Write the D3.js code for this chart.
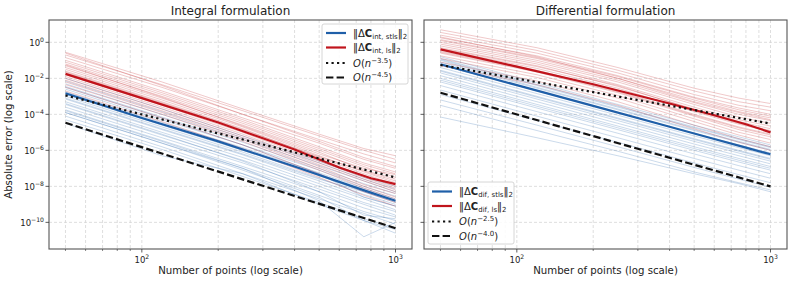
<!DOCTYPE html>
<html lang="en">
<head>
  <meta charset="UTF-8">
  <title>Integral vs differential formulation</title>
  <script src="https://d3js.org/d3.v7.min.js"></script>
  <style>
    body { margin: 0; background: #fff; font-family: "DejaVu Sans", sans-serif; }
    svg text { fill: #222; }
  </style>
</head>
<body>
  <div id="chart"></div>

  <script>
    // ---- data (errors stored as log10 values) ----
    // n values used for the mean curves and for the individual runs
    const meanN = [50, 100, 200, 400, 600, 800, 1000];
    const runN = [50, 120, 250, 500, 750, 1000];

    // Integral formulation
    const intStlsMeanLog = [-2.83, -4.2, -5.5, -6.9, -7.75, -8.35, -8.8];
    const intLsMeanLog   = [-1.75, -3.1, -4.45, -5.95, -6.95, -7.55, -7.88];
    const intStlsRunsLog = [
      [-2.0, -3.7, -5.2, -6.6, -7.5, -8.0],
      [-2.15, -3.85, -5.3, -6.7, -7.6, -8.15],
      [-2.3, -4.0, -5.4, -6.85, -7.7, -8.3],
      [-2.45, -4.15, -5.55, -7.0, -7.85, -8.4],
      [-2.6, -4.3, -5.7, -7.1, -8.0, -8.55],
      [-2.75, -4.45, -5.85, -7.25, -8.1, -8.7],
      [-2.9, -4.6, -6.0, -7.4, -8.3, -8.85],
      [-3.0, -4.7, -6.1, -7.55, -8.45, -9.0],
      [-3.15, -4.85, -6.25, -7.7, -8.6, -9.1],
      [-3.3, -5.0, -6.4, -7.85, -8.7, -9.3],
      [-3.45, -5.15, -6.55, -8.0, -8.9, -9.4],
      [-3.6, -5.3, -6.7, -8.15, -9.0, -9.6],
      [-3.75, -5.45, -6.9, -8.3, -9.2, -9.7],
      [-3.9, -5.6, -7.0, -8.5, -9.4, -9.9],
      [-4.1, -5.8, -7.3, -8.7, -9.5, -10.1],
      [-4.3, -5.95, -7.45, -8.9, -9.8, -10.3],
      [-4.5, -6.3, -7.3, -9.0, -9.9, -10.6],
      [-3.4, -5.1, -6.6, -8.3, -9.6, -9.8],
      [-3.8, -5.5, -7.0, -8.8, -10.8, -10.0],
      [-2.5, -4.2, -5.7, -7.3, -8.6, -9.1],
      [-3.1, -4.8, -6.2, -7.6, -8.3, -8.9],
      [-3.9, -5.6, -7.1, -8.6, -9.9, -10.4]
    ];
    const intLsRunsLog = [
      [-0.55, -2.2, -3.7, -5.1, -5.9, -6.3],
      [-0.7, -2.35, -3.8, -5.2, -6.0, -6.5],
      [-0.85, -2.5, -4.0, -5.4, -6.2, -6.7],
      [-1.0, -2.7, -4.2, -5.6, -6.5, -7.0],
      [-1.1, -2.8, -4.3, -5.8, -6.7, -7.2],
      [-1.2, -2.9, -4.4, -5.9, -6.8, -7.3],
      [-1.3, -3.0, -4.5, -6.0, -6.9, -7.5],
      [-1.4, -3.1, -4.6, -6.1, -7.1, -7.6],
      [-1.5, -3.2, -4.7, -6.3, -7.2, -7.8],
      [-1.6, -3.3, -4.8, -6.4, -7.3, -7.9],
      [-1.7, -3.4, -4.9, -6.5, -7.4, -8.0],
      [-1.8, -3.5, -5.0, -6.6, -7.5, -8.1],
      [-1.9, -3.6, -5.1, -6.7, -7.6, -8.2],
      [-2.0, -3.7, -5.2, -6.8, -7.7, -8.3],
      [-2.1, -3.8, -5.3, -6.9, -7.9, -8.4],
      [-2.2, -3.9, -5.4, -7.0, -8.0, -8.6],
      [-2.35, -4.0, -5.5, -7.1, -8.1, -8.7],
      [-2.5, -4.2, -5.7, -7.3, -8.3, -8.9],
      [-2.7, -4.4, -5.9, -7.5, -8.5, -9.1],
      [-0.6, -2.4, -4.0, -5.5, -6.4, -6.9],
      [-1.25, -3.05, -4.65, -6.2, -7.0, -7.35],
      [-1.65, -3.35, -4.85, -6.35, -7.15, -7.7]
    ];
    // reference slopes: [exponent, log10 value at n=50]
    const intRefDotted = [-3.5, -2.95];
    const intRefDashed = [-4.5, -4.47];

    // Differential formulation
    const difStlsMeanLog = [-1.22, -2.38, -3.53, -4.69, -5.37, -5.85, -6.22];
    const difLsMeanLog   = [-0.39, -1.35, -2.33, -3.4, -4.05, -4.55, -5.0];
    const difStlsRunsLog = [
      [-0.8, -2.25, -3.45, -4.6, -5.25, -5.7],
      [-0.95, -2.4, -3.6, -4.75, -5.4, -5.85],
      [-1.1, -2.55, -3.75, -4.9, -5.55, -6.0],
      [-1.25, -2.7, -3.9, -5.05, -5.7, -6.15],
      [-1.4, -2.85, -4.05, -5.2, -5.85, -6.3],
      [-1.55, -3.0, -4.2, -5.35, -6.0, -6.45],
      [-1.7, -3.15, -4.35, -5.5, -6.15, -6.6],
      [-1.85, -3.3, -4.5, -5.65, -6.3, -6.75],
      [-2.0, -3.45, -4.65, -5.8, -6.45, -6.9],
      [-2.2, -3.65, -4.85, -6.0, -6.65, -7.1],
      [-2.4, -3.85, -5.05, -6.2, -6.85, -7.3],
      [-2.65, -4.1, -5.3, -6.45, -7.1, -7.55],
      [-2.9, -4.35, -5.55, -6.7, -7.35, -7.8],
      [-3.2, -4.6, -5.8, -6.95, -7.6, -8.05],
      [-3.5, -4.9, -6.05, -7.2, -7.8, -8.2],
      [-4.15, -5.3, -6.3, -7.3, -7.85, -8.3],
      [-1.0, -2.5, -3.7, -4.85, -5.5, -5.95],
      [-1.6, -3.05, -4.25, -5.4, -6.05, -6.5],
      [-2.1, -3.55, -4.75, -5.9, -6.55, -7.0],
      [-0.9, -2.35, -3.55, -4.7, -5.35, -5.8]
    ];
    const difLsRunsLog = [
      [0.7, -0.3, -1.4, -2.55, -3.1, -3.4],
      [0.55, -0.45, -1.55, -2.7, -3.3, -3.6],
      [0.4, -0.6, -1.7, -2.9, -3.5, -3.8],
      [0.25, -0.75, -1.85, -3.05, -3.65, -4.0],
      [0.1, -0.9, -2.0, -3.2, -3.85, -4.2],
      [0.0, -1.0, -2.1, -3.35, -4.0, -4.35],
      [-0.1, -1.1, -2.2, -3.45, -4.15, -4.5],
      [-0.2, -1.2, -2.35, -3.6, -4.3, -4.65],
      [-0.3, -1.3, -2.45, -3.7, -4.4, -4.8],
      [-0.4, -1.45, -2.55, -3.85, -4.55, -4.95],
      [-0.5, -1.55, -2.7, -4.0, -4.7, -5.1],
      [-0.6, -1.65, -2.8, -4.1, -4.85, -5.25],
      [-0.75, -1.8, -2.95, -4.25, -5.0, -5.4],
      [-0.9, -1.95, -3.1, -4.4, -5.15, -5.6],
      [-1.1, -2.15, -3.3, -4.6, -5.35, -5.8],
      [-1.3, -2.35, -3.5, -4.8, -5.55, -6.0],
      [0.3, -0.8, -2.0, -3.3, -3.9, -4.3],
      [-0.35, -1.35, -2.4, -3.75, -4.5, -4.9],
      [0.15, -0.85, -1.9, -3.1, -3.75, -4.1],
      [-0.55, -1.6, -2.75, -4.05, -4.75, -5.15]
    ];
    const difRefDotted = [-2.5, -1.26];
    const difRefDashed = [-4.0, -2.8];

    const yTickExps = [0, -2, -4, -6, -8, -10];
    const xTickExps = [2, 3];

    // ---- layout ----
    const W = 793, H = 284;
    const plotTop = 20, plotBottom = 249;
    const blue = "#1f5fa8", red = "#c0141c";

    const svg = d3.select("#chart").append("svg")
      .attr("width", W).attr("height", H);

    const y = d3.scaleLog()
      .domain([Math.pow(10, -11.48), Math.pow(10, 1.24)])
      .range([plotBottom, plotTop]);

    const panels = [
      {
        x0: 49, x1: 412, title: "Integral formulation", sub: "int",
        stlsMean: intStlsMeanLog, lsMean: intLsMeanLog,
        stlsRuns: intStlsRunsLog, lsRuns: intLsRunsLog,
        dotted: intRefDotted, dashed: intRefDashed,
        legend: { x: 322, y: 24, w: 86, h: 60 }
      },
      {
        x0: 424, x1: 787, title: "Differential formulation", sub: "dif",
        stlsMean: difStlsMeanLog, lsMean: difLsMeanLog,
        stlsRuns: difStlsRunsLog, lsRuns: difLsRunsLog,
        dotted: difRefDotted, dashed: difRefDashed,
        legend: { x: 428, y: 182, w: 86, h: 62 }
      }
    ];

    function supText(sel, base, sup, size) {
      sel.append("tspan").text(base);
      sel.append("tspan").attr("font-size", size * 0.72).attr("dy", -size * 0.42).text(sup);
    }

    panels.forEach((p, i) => {
      const x = d3.scaleLog()
        .domain([Math.pow(10, 1.634), Math.pow(10, 3.065)])
        .range([p.x0, p.x1]);
      const g = svg.append("g");

      const clipId = "clip" + i;
      svg.append("clipPath").attr("id", clipId)
        .append("rect").attr("x", p.x0).attr("y", plotTop)
        .attr("width", p.x1 - p.x0).attr("height", plotBottom - plotTop);

      // grid
      const xMinor = [50, 60, 70, 80, 90, 200, 300, 400, 500, 600, 700, 800, 900];
      const xMajor = xTickExps.map(e => Math.pow(10, e));
      g.selectAll(".vgrid").data(xMajor.concat(xMinor)).enter().append("line")
        .attr("x1", d => x(d)).attr("x2", d => x(d))
        .attr("y1", plotTop).attr("y2", plotBottom)
        .attr("stroke", "#d6d6d6").attr("stroke-width", 0.8)
        .attr("stroke-dasharray", "3,2");
      g.selectAll(".hgrid").data(yTickExps).enter().append("line")
        .attr("x1", p.x0).attr("x2", p.x1)
        .attr("y1", d => y(Math.pow(10, d))).attr("y2", d => y(Math.pow(10, d)))
        .attr("stroke", "#d6d6d6").attr("stroke-width", 0.8)
        .attr("stroke-dasharray", "3,2");

      const plot = g.append("g").attr("clip-path", `url(#${clipId})`);
      const line = (ns) => d3.line()
        .x((d, k) => x(ns[k]))
        .y(d => y(Math.pow(10, d)));

      // individual runs
      plot.selectAll(".runB").data(p.stlsRuns).enter().append("path")
        .attr("d", line(runN)).attr("fill", "none")
        .attr("stroke", blue).attr("stroke-opacity", 0.26).attr("stroke-width", 0.9);
      plot.selectAll(".runR").data(p.lsRuns).enter().append("path")
        .attr("d", line(runN)).attr("fill", "none")
        .attr("stroke", red).attr("stroke-opacity", 0.26).attr("stroke-width", 0.9);

      // means
      plot.append("path").datum(p.stlsMean).attr("d", line(meanN))
        .attr("fill", "none").attr("stroke", blue).attr("stroke-width", 2.2);
      plot.append("path").datum(p.lsMean).attr("d", line(meanN))
        .attr("fill", "none").attr("stroke", red).attr("stroke-width", 2.2);

      // reference slopes
      const refEnds = [50, 1000];
      const refLine = r => refEnds.map(n => r[1] + r[0] * (Math.log10(n) - Math.log10(50)));
      plot.append("path").datum(refLine(p.dotted)).attr("d", line(refEnds))
        .attr("fill", "none").attr("stroke", "#111").attr("stroke-width", 2.2)
        .attr("stroke-dasharray", "2.2,3.3");
      plot.append("path").datum(refLine(p.dashed)).attr("d", line(refEnds))
        .attr("fill", "none").attr("stroke", "#111").attr("stroke-width", 2.2)
        .attr("stroke-dasharray", "7.4,3.2");

      // frame
      g.append("rect").attr("x", p.x0).attr("y", plotTop)
        .attr("width", p.x1 - p.x0).attr("height", plotBottom - plotTop)
        .attr("fill", "none").attr("stroke", "#555").attr("stroke-width", 1.1);

      // x ticks
      g.selectAll(".xt").data(xMajor).enter().append("line")
        .attr("x1", d => x(d)).attr("x2", d => x(d))
        .attr("y1", plotBottom).attr("y2", plotBottom + 3.5)
        .attr("stroke", "#333").attr("stroke-width", 0.8);
      g.selectAll(".xtm").data(xMinor).enter().append("line")
        .attr("x1", d => x(d)).attr("x2", d => x(d))
        .attr("y1", plotBottom).attr("y2", plotBottom + 2)
        .attr("stroke", "#333").attr("stroke-width", 0.6);
      xTickExps.forEach(e => {
        const t = g.append("text").attr("x", x(Math.pow(10, e)))
          .attr("y", plotBottom + 14).attr("text-anchor", "middle").attr("font-size", 8.5);
        supText(t, "10", String(e), 8.5);
      });

      // y ticks
      g.selectAll(".yt").data(yTickExps).enter().append("line")
        .attr("x1", p.x0 - 3.5).attr("x2", p.x0)
        .attr("y1", d => y(Math.pow(10, d))).attr("y2", d => y(Math.pow(10, d)))
        .attr("stroke", "#333").attr("stroke-width", 0.8);
      if (i === 0) {
        yTickExps.forEach(e => {
          const t = g.append("text").attr("x", p.x0 - 5)
            .attr("y", y(Math.pow(10, e)) + 3.5).attr("text-anchor", "end").attr("font-size", 8.5);
          supText(t, "10", e === 0 ? "0" : "\u2212" + Math.abs(e), 8.5);
        });
        svg.append("text")
          .attr("transform", `translate(12,${(plotTop + plotBottom) / 2}) rotate(-90)`)
          .attr("text-anchor", "middle").attr("font-size", 10.2)
          .text("Absolute error (log scale)");
      }

      // titles and labels
      svg.append("text").attr("x", (p.x0 + p.x1) / 2).attr("y", 15)
        .attr("text-anchor", "middle").attr("font-size", 12).text(p.title);
      svg.append("text").attr("x", (p.x0 + p.x1) / 2).attr("y", 274)
        .attr("text-anchor", "middle").attr("font-size", 10.2)
        .text("Number of points (log scale)");

      // legend
      const L = p.legend;
      const lg = svg.append("g");
      lg.append("rect").attr("x", L.x).attr("y", L.y).attr("width", L.w).attr("height", L.h)
        .attr("rx", 2).attr("fill", "#fff").attr("fill-opacity", 0.85)
        .attr("stroke", "#ccc").attr("stroke-width", 0.8);
      const items = [
        { color: blue, dash: null, kind: "norm", sub: p.sub + ", stls" },
        { color: red, dash: null, kind: "norm", sub: p.sub + ", ls" },
        { color: "#111", dash: "2.2,3.3", kind: "ord", exp: String(-p.dotted[0]) },
        { color: "#111", dash: "7.4,3.2", kind: "ord", exp: (-p.dashed[0]).toFixed(1) }
      ];
      const rowY = [9, 23.5, 39, 53.5];
      items.forEach((it, k) => {
        const ry = L.y + rowY[k] + (i === 1 ? 0.5 : 0);
        const ln = lg.append("line").attr("x1", L.x + 4).attr("x2", L.x + 24)
          .attr("y1", ry).attr("y2", ry)
          .attr("stroke", it.color).attr("stroke-width", 2.2);
        if (it.dash) ln.attr("stroke-dasharray", it.dash);
        const t = lg.append("text").attr("x", L.x + 31).attr("y", ry + 3.5).attr("font-size", 10);
        if (it.kind === "norm") {
          t.append("tspan").text("\u2016\u0394");
          t.append("tspan").attr("font-weight", "bold").text("C");
          t.append("tspan").attr("font-size", 7).attr("dy", 2).text(it.sub);
          t.append("tspan").attr("dy", -2).text("\u2016");
          t.append("tspan").attr("font-size", 7).attr("dy", 2).text("2");
        } else {
          t.append("tspan").attr("font-style", "italic").text("O");
          t.append("tspan").text("(");
          t.append("tspan").attr("font-style", "italic").text("n");
          t.append("tspan").attr("font-size", 7).attr("dy", -4).text("\u2212" + it.exp);
          t.append("tspan").attr("dy", 4).text(")");
        }
      });
    });
  </script>
</body>
</html>
